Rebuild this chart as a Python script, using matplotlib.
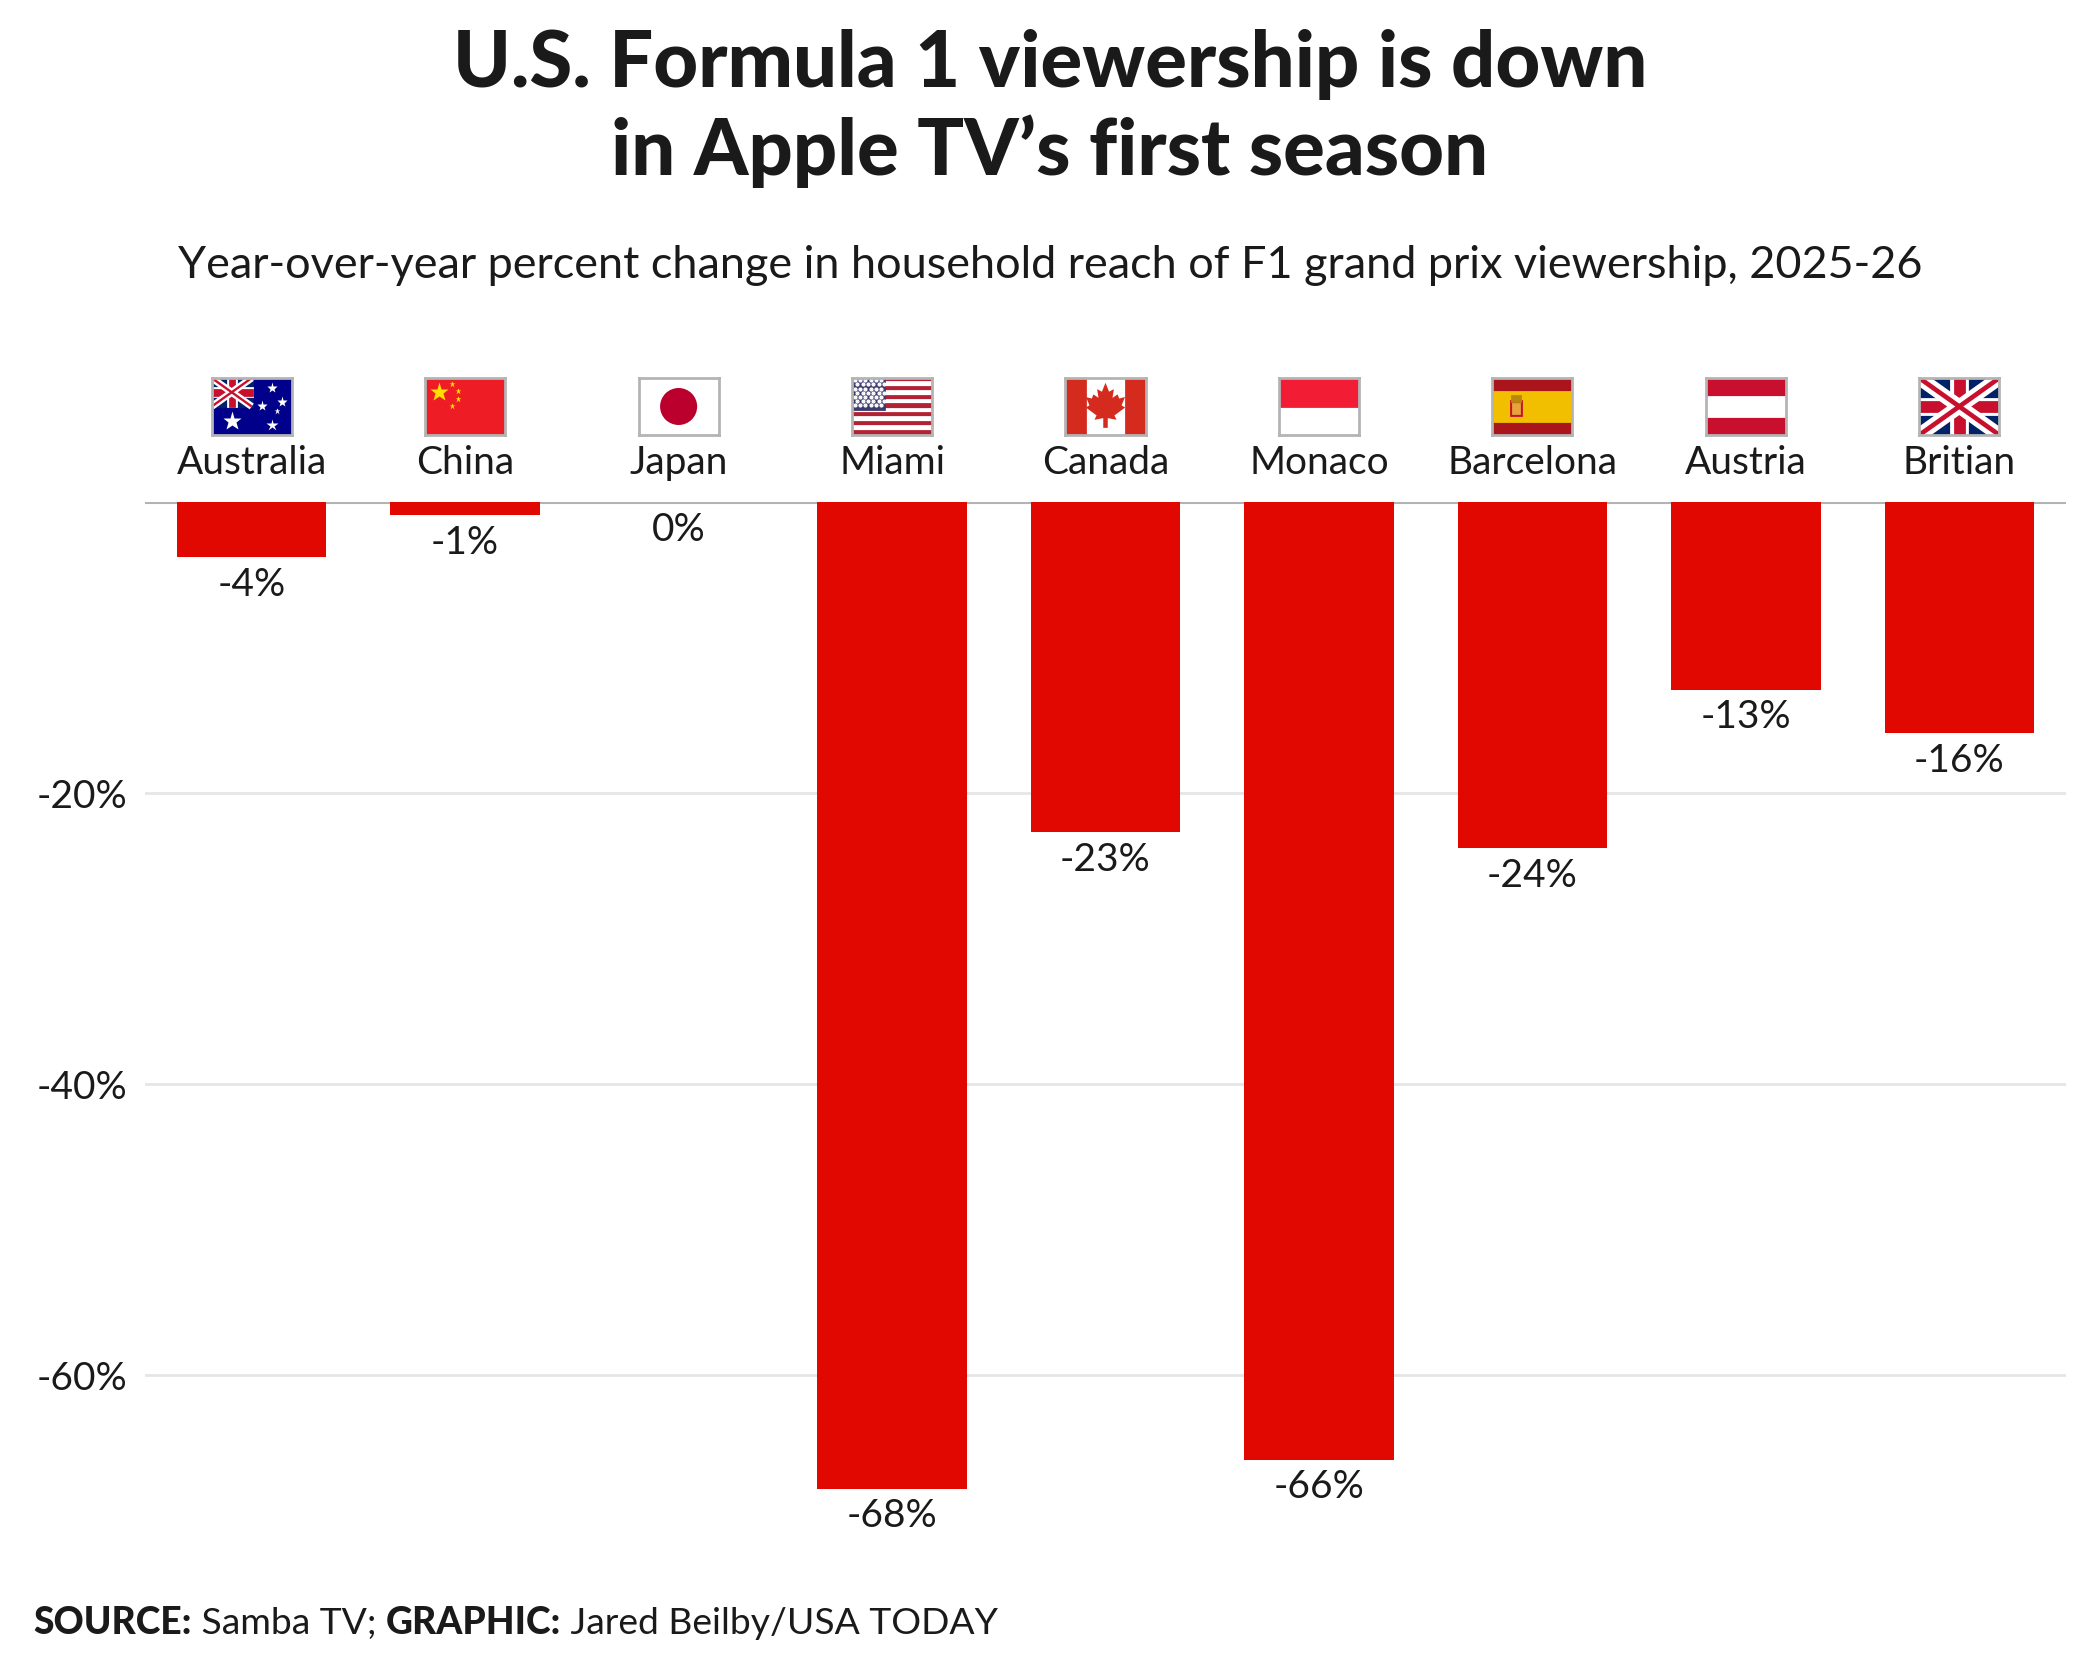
import numpy as np
import matplotlib.pyplot as plt
import matplotlib.patches as mpatches
import matplotlib.transforms as mtransforms

# Datos
races = ['Australia', 'China', 'Japan', 'Miami', 'Canada', 'Monaco', 'Barcelona', 'Austria', 'Britian']
flags = ['au', 'cn', 'jp', 'us', 'ca', 'mc', 'es', 'at', 'gb']
change = [-3.8, -0.9, 0.0, -67.8, -22.7, -65.8, -23.8, -12.9, -15.9]
yticks = [-20, -40, -60]

RED = '#e00800'
TXT = '#1a1a1a'
FS = 14
plt.rcParams['font.family'] = ['Lato', 'DejaVu Sans']


# Banderas simplificadas (espacio 28 x 20)
def star(a, x, y, s, c):
    a.plot(x, y, marker='*', ms=s, color=c, mec='none')


def draw_gb(a, x0=0, y0=0, w=28, h=20):
    a.add_patch(mpatches.Rectangle((x0, y0), w, h, color='#012169'))
    a.plot([x0, x0 + w], [y0, y0 + h], color='white', lw=w * 0.18, solid_capstyle='butt')
    a.plot([x0, x0 + w], [y0 + h, y0], color='white', lw=w * 0.18, solid_capstyle='butt')
    a.plot([x0, x0 + w], [y0, y0 + h], color='#C8102E', lw=w * 0.06, solid_capstyle='butt')
    a.plot([x0, x0 + w], [y0 + h, y0], color='#C8102E', lw=w * 0.06, solid_capstyle='butt')
    a.add_patch(mpatches.Rectangle((x0, y0 + h * 0.36), w, h * 0.28, color='white'))
    a.add_patch(mpatches.Rectangle((x0 + w * 0.4, y0), w * 0.2, h, color='white'))
    a.add_patch(mpatches.Rectangle((x0, y0 + h * 0.42), w, h * 0.16, color='#C8102E'))
    a.add_patch(mpatches.Rectangle((x0 + w * 0.445, y0), w * 0.11, h, color='#C8102E'))


def draw_flag(a, code):
    if code == 'au':
        a.add_patch(mpatches.Rectangle((0, 0), 28, 20, color='#00008B'))
        draw_gb(a, 0, 10, 14, 10)
        star(a, 7, 5, 7, 'white')
        for (sx, sy, ss) in [(21, 16.5, 4), (17.5, 10, 4), (24.5, 11.5, 4), (21, 3.5, 4.5), (23, 8.5, 2.5)]:
            star(a, sx, sy, ss, 'white')
    elif code == 'cn':
        a.add_patch(mpatches.Rectangle((0, 0), 28, 20, color='#EE1C25'))
        star(a, 5, 15, 7, '#FFDE00')
        for (sx, sy) in [(9.5, 18), (11.5, 15.5), (11.5, 12.5), (9.5, 10)]:
            star(a, sx, sy, 2.5, '#FFDE00')
    elif code == 'jp':
        a.add_patch(mpatches.Rectangle((0, 0), 28, 20, color='white'))
        a.add_patch(mpatches.Circle((14, 10), 6, color='#BC002D'))
    elif code == 'us':
        for k in range(13):
            a.add_patch(mpatches.Rectangle((0, 20 - (k + 1) * 20 / 13), 28, 20 / 13,
                                           color='#B22234' if k % 2 == 0 else 'white'))
        a.add_patch(mpatches.Rectangle((0, 20 - 7 * 20 / 13), 11.2, 7 * 20 / 13, color='#3C3B6E'))
        for r in range(7):
            for c in range(6):
                a.plot(1 + c * 1.85 + (r % 2) * 0.9, 19.2 - r * 1.45, '.', ms=1.0, color='white')
    elif code == 'ca':
        a.add_patch(mpatches.Rectangle((0, 0), 28, 20, color='white'))
        a.add_patch(mpatches.Rectangle((0, 0), 7, 20, color='#D52B1E'))
        a.add_patch(mpatches.Rectangle((21, 0), 7, 20, color='#D52B1E'))
        leaf = np.array([[14, 17], [15, 14.5], [16.3, 15.2], [15.8, 12], [18, 13.5], [18.5, 12.2],
                         [20, 12.6], [19, 10.2], [20, 9.6], [16.5, 7], [17, 6], [14.3, 6.5],
                         [14.3, 3], [13.7, 3], [13.7, 6.5], [11, 6], [11.5, 7], [8, 9.6],
                         [9, 10.2], [8, 12.6], [9.5, 12.2], [10, 13.5], [12.2, 12],
                         [11.7, 15.2], [13, 14.5]])
        a.add_patch(mpatches.Polygon(leaf, closed=True, color='#D52B1E'))
    elif code == 'mc':
        a.add_patch(mpatches.Rectangle((0, 0), 28, 20, color='white'))
        a.add_patch(mpatches.Rectangle((0, 10), 28, 10, color='#F21C35'))
    elif code == 'es':
        a.add_patch(mpatches.Rectangle((0, 0), 28, 20, color='#AA151B'))
        a.add_patch(mpatches.Rectangle((0, 5), 28, 10, color='#F1BF00'))
        a.add_patch(mpatches.Rectangle((6.5, 7), 3.5, 5, color='#C8102E'))
        a.add_patch(mpatches.Rectangle((7.3, 7.8), 1.9, 3.2, color='#E8A33D'))
        a.add_patch(mpatches.Rectangle((6.8, 12), 2.9, 1.6, color='#B8860B'))
    elif code == 'at':
        a.add_patch(mpatches.Rectangle((0, 0), 28, 20, color='#C8102E'))
        a.add_patch(mpatches.Rectangle((0, 6.67), 28, 6.67, color='white'))
    elif code == 'gb':
        draw_gb(a)
    a.set_xlim(0, 28)
    a.set_ylim(0, 20)
    a.set_xticks([])
    a.set_yticks([])
    for s in a.spines.values():
        s.set_color('#b4b4b4')
        s.set_linewidth(1.0)


fig = plt.figure(figsize=(10.5, 8.4), dpi=200)
ax = fig.add_axes([145 / 2100, 1 - 1579 / 1680, 1921 / 2100, 1077 / 1680])

x = np.arange(len(races))
ax.bar(x, change, width=0.7, color=RED, zorder=3)
ax.axhline(0, color='#b3b3b3', lw=1.1, zorder=2)

ax.set_xlim(-0.5, len(races) - 0.5)
ax.set_ylim(-74, 0)
ax.set_yticks(yticks)
ax.set_yticklabels([f'{v}%' for v in yticks], fontsize=FS, color=TXT)
ax.tick_params(axis='y', length=0, pad=6.5)
ax.set_xticks([])
ax.yaxis.grid(True, color='#e6e6e6', lw=1.0, zorder=0)
ax.set_axisbelow(True)
for s in ax.spines.values():
    s.set_visible(False)

# Etiquetas de valor
for i, v in enumerate(change):
    ax.annotate(f'{int(round(v))}%', xy=(i, v), xytext=(0, -3.5), textcoords='offset points',
                ha='center', va='top', fontsize=FS, color=TXT)

# Nombres y banderas
trans = mtransforms.blended_transform_factory(ax.transData, ax.transAxes)
for i, (name, code) in enumerate(zip(races, flags)):
    ax.text(i, 1 + 39 / 1077, name, transform=trans, ha='center', va='center',
            fontsize=FS, color=TXT)
    fa = ax.inset_axes([i - 0.1875, 1 + 67 / 1077, 0.375, 57 / 1077], transform=trans)
    draw_flag(fa, code)

# Titulos
fig.text(0.5, 1 - 64 / 1680, 'U.S. Formula 1 viewership is down', ha='center', va='center',
         fontsize=28, fontweight='black', color=TXT)
fig.text(0.5, 1 - 151 / 1680, 'in Apple TV\u2019s first season', ha='center', va='center',
         fontsize=28, fontweight='black', color=TXT)
fig.text(0.5, 1 - 265 / 1680,
         'Year-over-year percent change in household reach of F1 grand prix viewership, 2025-26',
         ha='center', va='center', fontsize=16.2, color=TXT)

# Fuente
t1 = fig.text(33 / 2100, 1 - 1623 / 1680, 'SOURCE:', fontsize=13.4, fontweight='black',
              color=TXT, va='center')
t2 = plt.annotate(' Samba TV; ', xy=(1, 0), xycoords=t1, fontsize=13.4, color=TXT, va='bottom')
t3 = plt.annotate('GRAPHIC:', xy=(1, 0), xycoords=t2, fontsize=13.4, fontweight='black',
                  color=TXT, va='bottom')
plt.annotate(' Jared Beilby/USA TODAY', xy=(1, 0), xycoords=t3, fontsize=13.4, color=TXT,
             va='bottom')

fig.savefig('out.png', dpi=200, facecolor='white')
